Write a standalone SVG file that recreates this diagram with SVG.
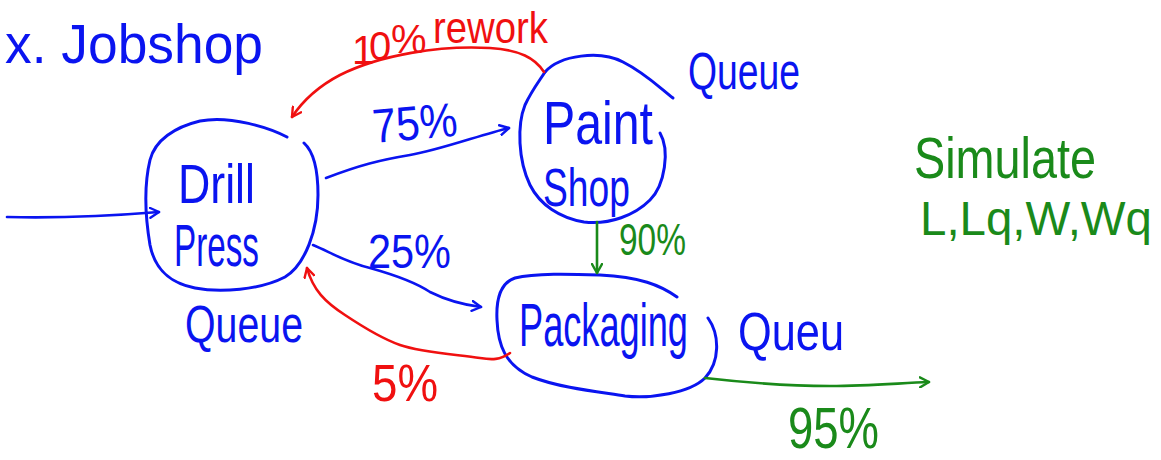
<svg xmlns="http://www.w3.org/2000/svg" width="1161" height="460" viewBox="0 0 1161 460">
<defs>
<style>
.b{fill:none;stroke:#0a14f0;stroke-width:3;stroke-linecap:round;stroke-linejoin:round}
.bc{fill:none;stroke:#0a14f0;stroke-width:2.6;stroke-linecap:round}
.rc{fill:none;stroke:#f01010;stroke-width:2.6;stroke-linecap:round}
.gc{fill:none;stroke:#1a8a1a;stroke-width:2.6;stroke-linecap:round}
text{font-family:"Liberation Sans","DejaVu Sans",sans-serif}
.tb{fill:#0a14f0}
.tr{fill:#f01010}
.tg{fill:#1a8a1a}
</style>
<marker id="ab" viewBox="0 0 12 12" refX="10" refY="6" markerWidth="12" markerHeight="12" markerUnits="userSpaceOnUse" orient="auto"><path d="M1,1 L10,6 L1,11" fill="none" stroke="#0a14f0" stroke-width="2.4" stroke-linecap="round" stroke-linejoin="round"/></marker>
<marker id="ar" viewBox="0 0 12 12" refX="10" refY="6" markerWidth="12" markerHeight="12" markerUnits="userSpaceOnUse" orient="auto"><path d="M1,1 L10,6 L1,11" fill="none" stroke="#f01010" stroke-width="2.4" stroke-linecap="round" stroke-linejoin="round"/></marker>
<marker id="ag" viewBox="0 0 12 12" refX="10" refY="6" markerWidth="12" markerHeight="12" markerUnits="userSpaceOnUse" orient="auto"><path d="M1,1 L10,6 L1,11" fill="none" stroke="#1a8a1a" stroke-width="2.4" stroke-linecap="round" stroke-linejoin="round"/></marker>
</defs>
<rect width="1161" height="460" fill="#ffffff"/>

<text class="tb" x="5" y="63" font-size="56" textLength="258" lengthAdjust="spacingAndGlyphs">x. Jobshop</text>

<g id="drill-press">
<path class="b" d="M287,137 C270,128 230,115 200,121 C175,127 155,140 150,160 C144,185 145,215 150,245 C155,270 170,283 195,288 C220,293 260,290 285,277 C305,265 318,230 318,195 C318,170 314,152 304,143"/>
<text class="tb" x="178" y="203" font-size="56" textLength="77" lengthAdjust="spacingAndGlyphs">Drill</text>
<text class="tb" x="174" y="266" font-size="60" textLength="85" lengthAdjust="spacingAndGlyphs">Press</text>
<text class="tb" x="185" y="342" font-size="52" textLength="118" lengthAdjust="spacingAndGlyphs">Queue</text>
</g>

<g id="paint-shop">
<path class="b" d="M545,72 C560,55 600,50 623,62 C645,73 660,88 673,98"/>
<path class="b" d="M660,133 C670,150 665,185 650,200 C635,215 610,225 584,222 C560,218 540,205 530,185 C518,160 517,125 525,105 C532,90 540,80 545,72"/>
<text class="tb" x="543" y="144" font-size="62" textLength="110" lengthAdjust="spacingAndGlyphs">Paint</text>
<text class="tb" x="543" y="206" font-size="54" textLength="87" lengthAdjust="spacingAndGlyphs">Shop</text>
<text class="tb" x="688" y="89" font-size="52" textLength="112" lengthAdjust="spacingAndGlyphs">Queue</text>
</g>

<g id="packaging">
<path class="b" d="M677,297 C660,285 640,277 600,275 C570,274 535,273 515,278 C500,283 496,300 497,320 C498,345 505,365 532,377 C560,388 600,392 625,396 C650,399 690,393 705,378 C720,362 720,335 708,318"/>
<text class="tb" transform="translate(519 346) scale(1 1.32)" x="0" y="0" font-size="46" textLength="169" lengthAdjust="spacingAndGlyphs">Packaging</text>
<text class="tb" x="738" y="350" font-size="54" textLength="106" lengthAdjust="spacingAndGlyphs">Queu</text>
</g>

<g id="connectors">
<path class="bc" d="M7,217 C50,218 110,216 159,212" marker-end="url(#ab)"/>
<path class="bc" d="M326,178 C360,165 380,160 410,155 C440,150 480,135 509,128" marker-end="url(#ab)"/>
<path class="rc" d="M544,72 C535,58 520,50 490,48 C440,45 380,55 340,75 C315,88 300,105 292,117" marker-end="url(#ar)"/>
<path class="bc" d="M313,245 C330,252 345,262 370,268 C395,275 415,282 430,292 C450,302 465,305 481,307" marker-end="url(#ab)"/>
<path class="rc" d="M510,353 C500,360 492,360 480,358 C450,354 420,352 400,345 C380,338 360,325 345,315 C325,302 313,290 307,268" marker-end="url(#ar)"/>
<path class="gc" d="M597,222 L597,273" marker-end="url(#ag)"/>
<path class="gc" d="M705,378 C740,382 780,386 830,386 C870,386 900,383 929,382" marker-end="url(#ag)"/>
</g>

<g id="labels">
<text class="tr" font-size="44"><tspan font-size="40" x="352 369 391 426" y="64 60 53 46">10% </tspan><tspan x="433" y="43" textLength="115" lengthAdjust="spacingAndGlyphs">rework</tspan></text>
<text class="tb" x="374" y="143" font-size="48" textLength="85" lengthAdjust="spacingAndGlyphs" transform="rotate(-5 374 143)">75%</text>
<text class="tb" x="368" y="268" font-size="48" textLength="83" lengthAdjust="spacingAndGlyphs">25%</text>
<text class="tr" x="372" y="401" font-size="52" textLength="66" lengthAdjust="spacingAndGlyphs">5%</text>
<text class="tg" x="619" y="255" font-size="44" textLength="67" lengthAdjust="spacingAndGlyphs">90%</text>
<text class="tg" x="788" y="448" font-size="58" textLength="91" lengthAdjust="spacingAndGlyphs">95%</text>
</g>

<g id="note">
<text class="tg" x="914" y="178" font-size="58" textLength="182" lengthAdjust="spacingAndGlyphs">Simulate</text>
<text class="tg" x="920" y="235" font-size="48" textLength="232" lengthAdjust="spacingAndGlyphs">L,Lq,W,Wq</text>
</g>
</svg>
